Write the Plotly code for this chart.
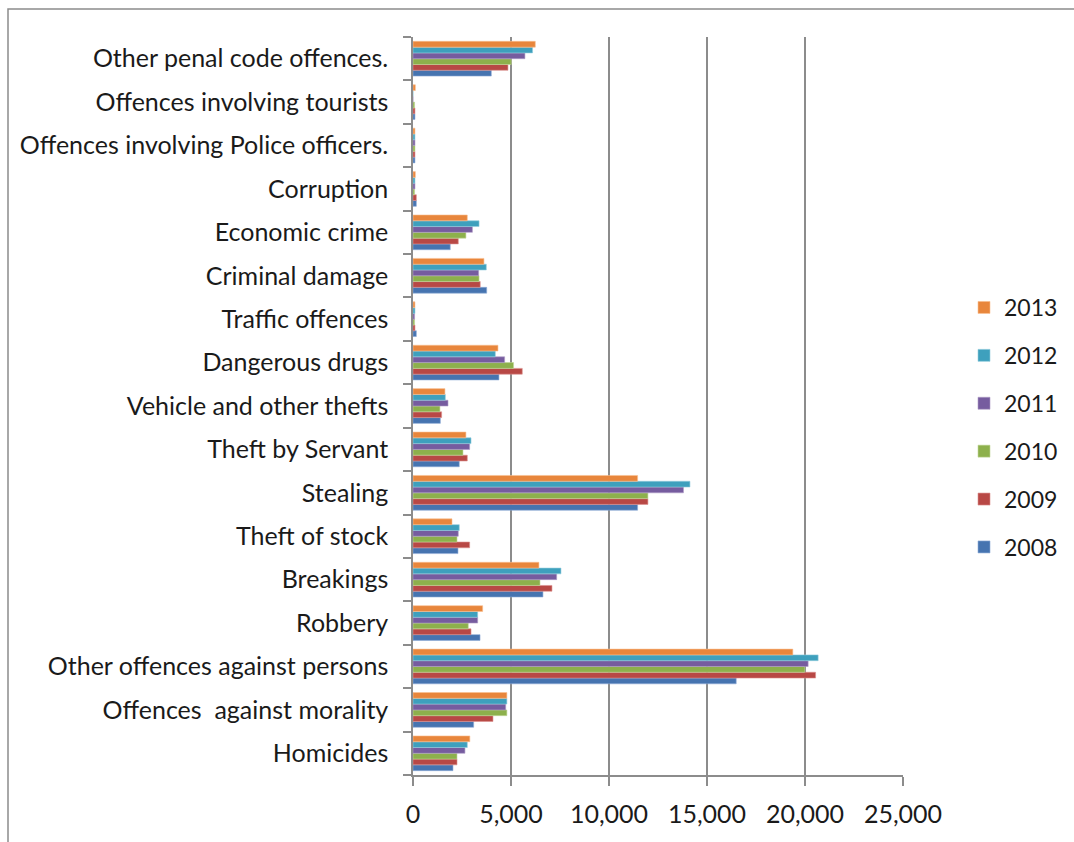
import plotly.graph_objects as go

categories = [
    "Homicides",
    "Offences  against morality",
    "Other offences against persons",
    "Robbery",
    "Breakings",
    "Theft of stock",
    "Stealing",
    "Theft by Servant",
    "Vehicle and other thefts",
    "Dangerous drugs",
    "Traffic offences",
    "Criminal damage",
    "Economic crime",
    "Corruption",
    "Offences involving Police officers.",
    "Offences involving tourists",
    "Other penal code offences.",
]

years = ["2008", "2009", "2010", "2011", "2012", "2013"]

v2008 = [2040, 3095, 16490, 3420, 6630, 2295, 11460, 2360, 1395, 4385, 170, 3760, 1900, 170, 100, 100, 3995]
v2009 = [2245, 4080, 20540, 2960, 7090, 2890, 11985, 2770, 1460, 5575, 100, 3430, 2310, 170, 100, 100, 4845]
v2010 = [2245, 4790, 19990, 2820, 6480, 2245, 11985, 2550, 1375, 5130, 80, 3370, 2700, 80, 100, 80, 5015]
v2011 = [2650, 4730, 20160, 3300, 7330, 2310, 13800, 2890, 1785, 4675, 80, 3350, 3030, 100, 100, 0, 5710]
v2012 = [2770, 4790, 20670, 3300, 7550, 2360, 14130, 2960, 1650, 4200, 100, 3740, 3370, 100, 100, 0, 6100]
v2013 = [2900, 4790, 19380, 3555, 6425, 1990, 11460, 2700, 1630, 4335, 100, 3620, 2770, 120, 100, 120, 6240]

series = [v2008, v2009, v2010, v2011, v2012, v2013]
colors = ["#4674B0", "#B84845", "#8DB04C", "#765C9F", "#3EA0BD", "#E8863C"]
borders = ["#8EABD6", "#DB918F", "#C2D69B", "#AE9CC6", "#93CDDD", "#FAC090"]

FONT = "Lato"
TXT = "#1a1a1a"

fig = go.Figure()
for i, (y, vals, c, bc) in enumerate(zip(years, series, colors, borders)):
    fig.add_trace(go.Bar(
        y=categories, x=vals, name=y, orientation="h",
        marker=dict(color=c, line=dict(color=bc, width=0.6)),
        legendgroup=y, legendrank=len(years) - i,
    ))

fig.update_layout(
    width=1074, height=842,
    margin=dict(l=413, r=171, t=37, b=67),
    paper_bgcolor="white", plot_bgcolor="white",
    barmode="group", bargap=0.2, bargroupgap=0,
    font=dict(family=FONT, size=25, color=TXT),
    legend=dict(
        traceorder="grouped", tracegroupgap=15,
        xref="container", yref="container",
        x=964 / 1074, xanchor="left", y=1 - 286 / 842, yanchor="top",
        font=dict(family=FONT, size=23, color=TXT),
        bgcolor="rgba(0,0,0,0)",
    ),
    xaxis=dict(
        range=[0, 25000], tickvals=[0, 5000, 10000, 15000, 20000, 25000],
        tickformat=",d", showgrid=True, gridcolor="#8c8c8c", gridwidth=1.5,
        zeroline=False, showline=True, linecolor="#8c8c8c", linewidth=1.5,
        ticks="outside", ticklen=9, tickcolor="#8c8c8c", tickwidth=1.5,
        ticklabelstandoff=7,
        tickfont=dict(family=FONT, size=25, color=TXT),
        fixedrange=True,
    ),
    yaxis=dict(
        type="category", categoryorder="array", categoryarray=categories,
        showline=True, linecolor="#8c8c8c", linewidth=1.5,
        ticks="outside", tickson="boundaries", ticklen=8, tickcolor="#8c8c8c", tickwidth=1.5,
        ticklabelstandoff=18,
        tickfont=dict(family=FONT, size=25, color=TXT),
        showgrid=False,
    ),
    shapes=[dict(
        type="rect", xref="paper", yref="paper",
        x0=(8 - 413) / 490, x1=(1090 - 413) / 490,
        y0=(775 - 860) / 738, y1=(775 - 9) / 738,
        line=dict(color="#8c8c8c", width=1.5), fillcolor="rgba(0,0,0,0)", layer="below",
    )],
)

fig.write_html("out.html")
